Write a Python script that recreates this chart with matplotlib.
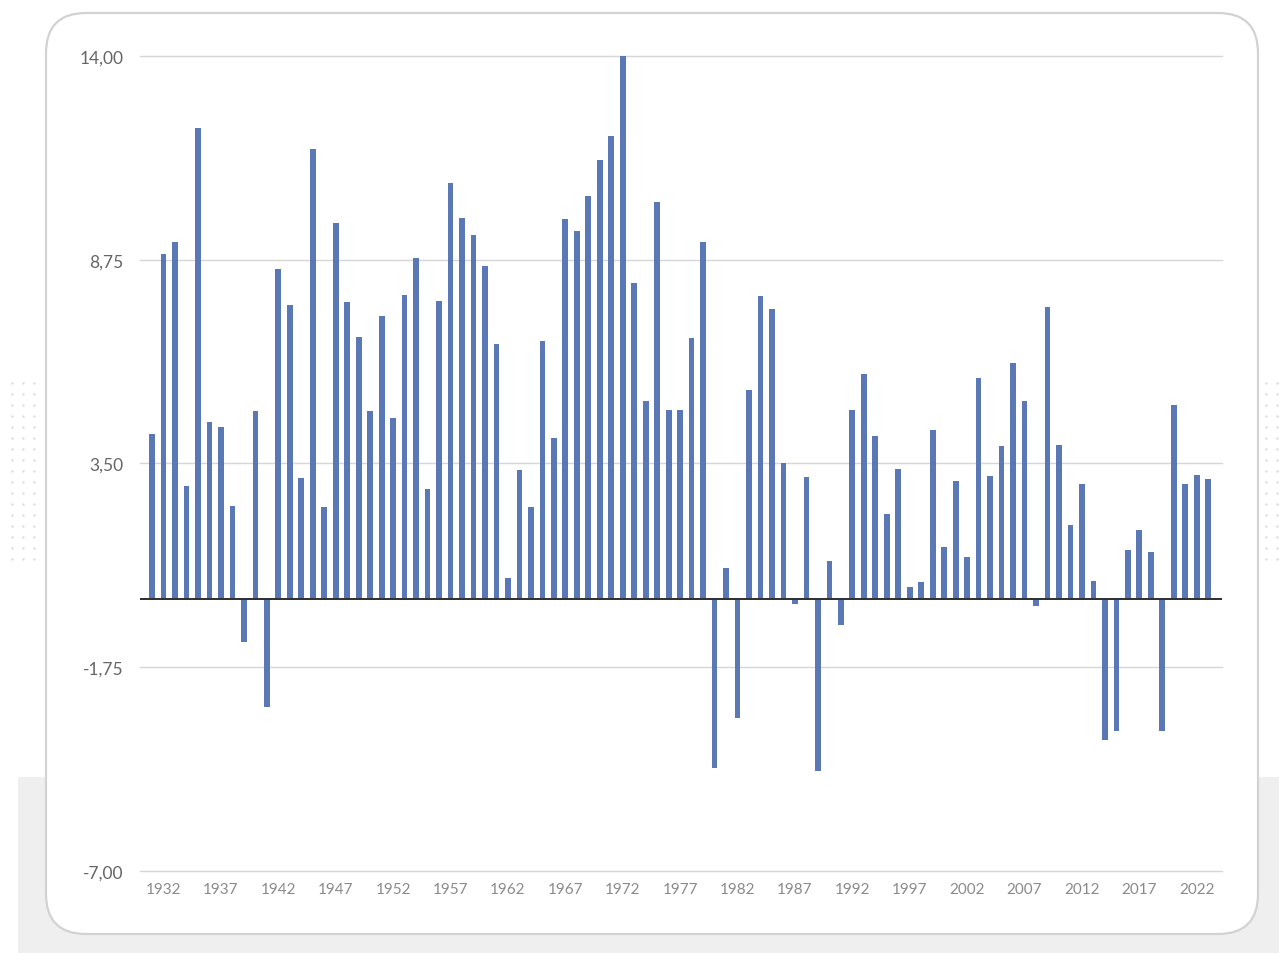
import numpy as np
import matplotlib
matplotlib.use("Agg")
import matplotlib.pyplot as plt
from matplotlib.patches import FancyBboxPatch, Rectangle

# yearly values, 1931 - 2023
years = list(range(1931, 2024))
values = [
    4.25, 8.90, 9.22, 2.92, 12.14, 4.58, 4.45, 2.40, -1.10, 4.85,
    -2.78, 8.50, 7.58, 3.13, 11.60, 2.37, 9.69, 7.66, 6.77, 4.85,
    7.29, 4.68, 7.83, 8.80, 2.85, 7.68, 10.73, 9.82, 9.38, 8.60,
    6.58, 0.56, 3.33, 2.37, 6.66, 4.15, 9.79, 9.48, 10.38, 11.33,
    11.94, 14.00, 8.14, 5.10, 10.23, 4.88, 4.88, 6.73, 9.22, -4.34,
    0.81, -3.05, 5.40, 7.82, 7.49, 3.50, -0.12, 3.14, -4.43, 0.98,
    -0.66, 4.89, 5.81, 4.21, 2.20, 3.36, 0.32, 0.44, 4.36, 1.35,
    3.04, 1.10, 5.71, 3.18, 3.96, 6.08, 5.10, -0.16, 7.52, 3.97,
    1.92, 2.98, 0.48, -3.63, -3.40, 1.28, 1.78, 1.22, -3.38, 5.00,
    2.98, 3.20, 3.10,
]
ytick_vals = [-7.00, -1.75, 3.50, 8.75, 14.00]
xtick_years = list(range(1932, 2023, 5))

plt.rcParams['font.family'] = ['Lato', 'DejaVu Sans']

fig = plt.figure(figsize=(12.79, 9.54), dpi=100)

# background card, drawn in pixel space
bg = fig.add_axes([0, 0, 1, 1])
bg.set_xlim(0, 1279)
bg.set_ylim(954, 0)
bg.axis('off')
bg.add_patch(Rectangle((18, 778), 1279 - 18, 954 - 778, color='#efefef', lw=0))
bg.add_patch(FancyBboxPatch((46, 14), 1212, 921,
                            boxstyle="round,pad=0,rounding_size=40",
                            facecolor='white', edgecolor='#d2d2d2', lw=1.6))
# dotted decoration at the sides
gx, gy = np.meshgrid(np.arange(12, 44, 11), np.arange(384, 566, 11))
bg.scatter(gx.ravel(), gy.ravel(), s=3, color='#dcdcdc', lw=0)
gx, gy = np.meshgrid(np.arange(1266, 1280, 11), np.arange(384, 566, 11))
bg.scatter(gx.ravel(), gy.ravel(), s=3, color='#dcdcdc', lw=0)

ax = fig.add_axes([140 / 1279, 1 - 872 / 954, 1082 / 1279, 815 / 954])
ax.set_facecolor('none')
ax.bar(years, values, width=0.5, color='#5a78b5', zorder=3)
ax.axhline(0, color='#2e2e2e', lw=1.4, zorder=4)

ax.set_ylim(-7, 14)
ax.set_xlim(1929.95, 2024.2)
ax.set_yticks(ytick_vals)
ax.set_yticklabels([f"{v:.2f}".replace('.', ',') for v in ytick_vals])
ax.set_xticks(xtick_years)
ax.set_xticklabels([str(y) for y in xtick_years])
ax.grid(axis='y', color='#d6d6d6', lw=1, zorder=0, clip_on=False)
ax.tick_params(axis='y', length=0, pad=12, labelsize=12.5, labelcolor='#666666')
ax.tick_params(axis='x', length=0, pad=8, labelsize=11, labelcolor='#8a8a8a')
for s in ax.spines.values():
    s.set_visible(False)

fig.savefig('out.png', dpi=100)
